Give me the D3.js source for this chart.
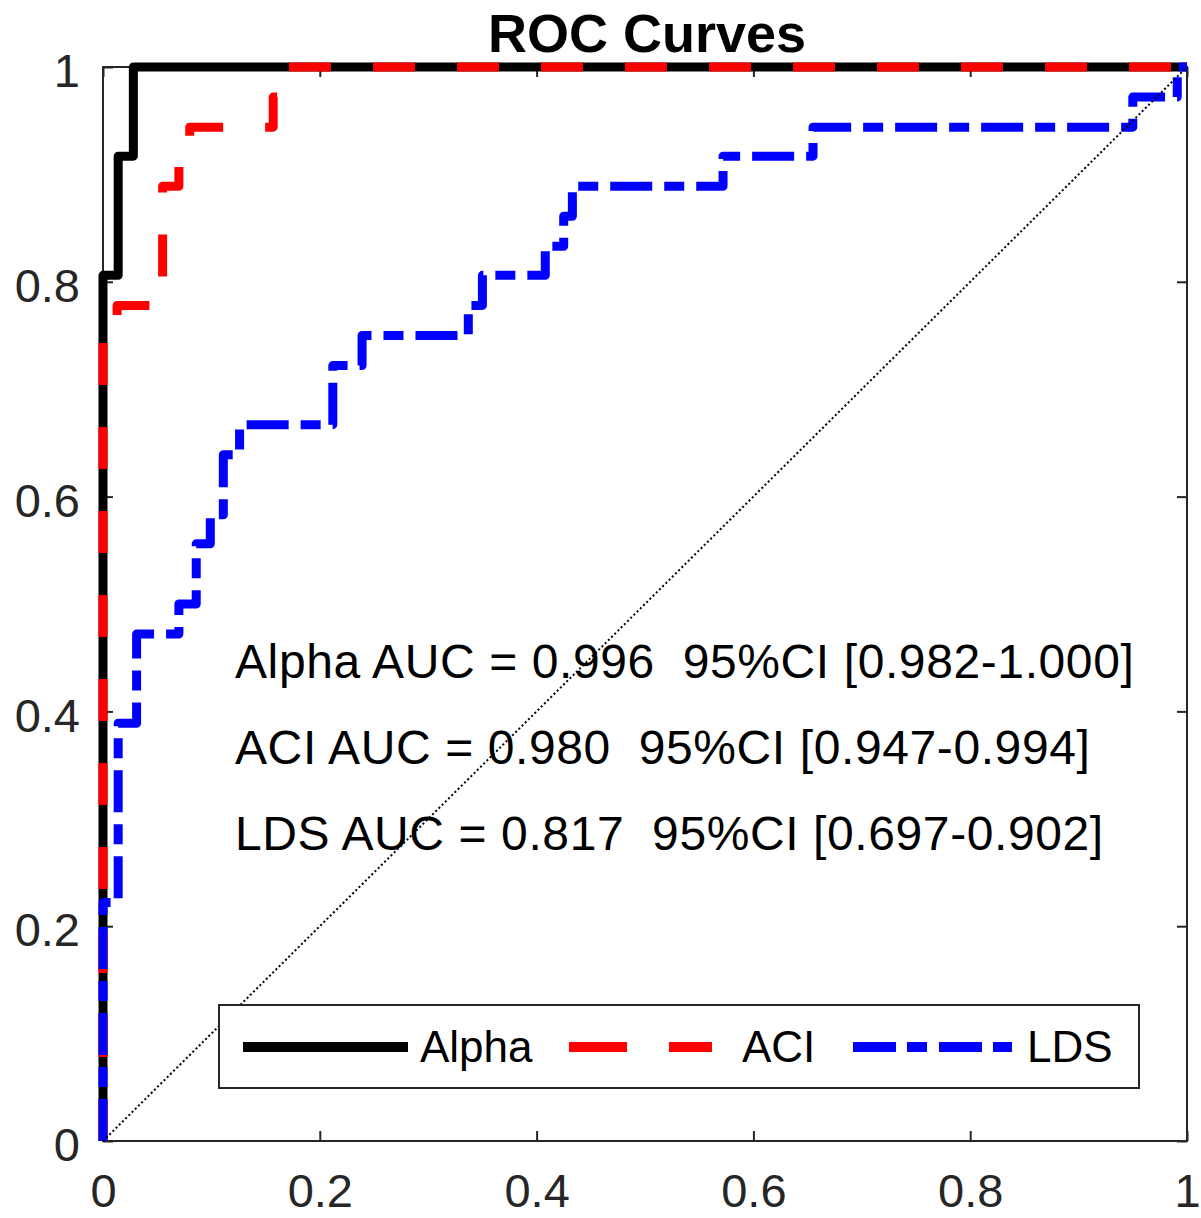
<!DOCTYPE html>
<html>
<head>
<meta charset="utf-8">
<script src="https://cdn.jsdelivr.net/npm/d3@7"></script>
<style>
  body { margin: 0; background: #fff; }
  svg { display: block; font-family: "Liberation Sans", Arial, Helvetica, sans-serif; }
</style>
</head>
<body>
<div id="chart"></div>
<script>
// ROC points (false positive rate, true positive rate)
const alphaFpr = [0, 0, 0.014, 0.014, 0.028, 0.028, 1];
const alphaTpr = [0, 0.806, 0.806, 0.917, 0.917, 1, 1];

const aciFpr = [0, 0, 0.013, 0.013, 0.055, 0.055, 0.070, 0.070, 0.080, 0.080, 0.157, 0.157, 0.168, 0.168, 1];
const aciTpr = [0, 0.750, 0.750, 0.778, 0.778, 0.889, 0.889, 0.917, 0.917, 0.944, 0.944, 0.972, 0.972, 1, 1];

const ldsFpr = [0, 0, 0.014, 0.014, 0.031, 0.031, 0.070, 0.070, 0.086, 0.086, 0.099, 0.099, 0.111, 0.111,
                0.126, 0.126, 0.212, 0.212, 0.239, 0.239, 0.337, 0.337, 0.350, 0.350, 0.408, 0.408,
                0.425, 0.425, 0.433, 0.433, 0.572, 0.572, 0.655, 0.655, 0.950, 0.950, 0.991, 0.991, 1];
const ldsTpr = [0, 0.222, 0.222, 0.389, 0.389, 0.472, 0.472, 0.500, 0.500, 0.556, 0.556, 0.583, 0.583, 0.639,
                0.639, 0.667, 0.667, 0.722, 0.722, 0.750, 0.750, 0.778, 0.778, 0.806, 0.806, 0.833,
                0.833, 0.861, 0.861, 0.889, 0.889, 0.917, 0.917, 0.944, 0.944, 0.972, 0.972, 1, 1];

const seriesNames = ["Alpha", "ACI", "LDS"];
const aucValues = ["0.996", "0.980", "0.817"];
const ciLow = ["0.982", "0.947", "0.697"];
const ciHigh = ["1.000", "0.994", "0.902"];
const tickValues = [0, 0.2, 0.4, 0.6, 0.8, 1];

const width = 1201, height = 1218;
const margin = {top: 67, right: 14, bottom: 77, left: 103};
const axisColor = "#262626";

const svg = d3.select("#chart").append("svg")
    .attr("width", width)
    .attr("height", height);

const x = d3.scaleLinear().domain([0, 1]).range([margin.left, width - margin.right]);
const y = d3.scaleLinear().domain([0, 1]).range([height - margin.bottom, margin.top]);

// box
svg.append("rect")
    .attr("x", x(0)).attr("y", y(1))
    .attr("width", x(1) - x(0)).attr("height", y(0) - y(1))
    .attr("fill", "none")
    .attr("stroke", axisColor)
    .attr("stroke-width", 2);

// axes with ticks pointing inward
const fmt = d => d === 0 || d === 1 ? String(d) : d.toFixed(1);

const xAxis = svg.append("g")
    .attr("transform", `translate(0,${y(0)})`)
    .call(d3.axisBottom(x).tickValues(tickValues).tickFormat(fmt).tickSizeInner(-10).tickSizeOuter(0).tickPadding(33));
const xAxisTop = svg.append("g")
    .attr("transform", `translate(0,${y(1)})`)
    .call(d3.axisTop(x).tickValues(tickValues).tickFormat("").tickSizeInner(-10).tickSizeOuter(0));
const yAxis = svg.append("g")
    .attr("transform", `translate(${x(0)},0)`)
    .call(d3.axisLeft(y).tickValues(tickValues).tickFormat(fmt).tickSizeInner(-10).tickSizeOuter(0).tickPadding(23));
const yAxisRight = svg.append("g")
    .attr("transform", `translate(${x(1)},0)`)
    .call(d3.axisRight(y).tickValues(tickValues).tickFormat("").tickSizeInner(-10).tickSizeOuter(0));

[xAxis, xAxisTop, yAxis, yAxisRight].forEach(g => {
  g.select(".domain").remove();
  g.selectAll(".tick line").attr("stroke", axisColor).attr("stroke-width", 2);
  g.selectAll(".tick text")
      .attr("fill", axisColor)
      .style("font-size", "47px")
      .style("font-family", "'Liberation Sans', Arial, sans-serif");
});
yAxis.selectAll(".tick text").attr("dy", "0.42em");

// curves
const line = d3.line().x(d => x(d[0])).y(d => y(d[1]));
const curves = [
  {fpr: alphaFpr, tpr: alphaTpr, color: "#000000", dash: null},
  {fpr: aciFpr, tpr: aciTpr, color: "#ff0000", dash: "42,42"},
  {fpr: ldsFpr, tpr: ldsTpr, color: "#0000ff", dash: "42,12,20,12"}
];

svg.append("g").selectAll("path")
    .data(curves)
    .enter()
    .append("path")
    .attr("d", c => line(c.fpr.map((f, i) => [f, c.tpr[i]])))
    .attr("fill", "none")
    .attr("stroke", c => c.color)
    .attr("stroke-width", 9)
    .attr("stroke-linejoin", "round")
    .attr("stroke-dasharray", c => c.dash);

// chance line
svg.append("line")
    .attr("x1", x(0)).attr("y1", y(0))
    .attr("x2", x(1)).attr("y2", y(1))
    .attr("stroke", "#000")
    .attr("stroke-width", 2)
    .attr("stroke-dasharray", "2,2.5");

// AUC annotations
const annot = svg.append("g");
seriesNames.forEach((name, i) => {
  annot.append("text")
      .attr("x", 235)
      .attr("y", 678 + i * 86)
      .style("font-size", "48px")
      .style("letter-spacing", "0.6px")
      .style("white-space", "pre")
      .attr("fill", "#000")
      .text(`${name} AUC = ${aucValues[i]}  95%CI [${ciLow[i]}-${ciHigh[i]}]`);
});

// title
svg.append("text")
    .attr("x", (x(0) + x(1)) / 2 + 2)
    .attr("y", 52)
    .attr("text-anchor", "middle")
    .style("font-size", "54px")
    .style("font-weight", "bold")
    .text("ROC Curves");

// legend
const legend = svg.append("g");
legend.append("rect")
    .attr("x", 219).attr("y", 1005)
    .attr("width", 920).attr("height", 83)
    .attr("fill", "#fff")
    .attr("stroke", axisColor)
    .attr("stroke-width", 2);

const legendItems = [
  {x0: 243, x1: 408, tx: 420},
  {x0: 569, x1: 712, tx: 742},
  {x0: 853, x1: 1012, tx: 1027}
];
const legendDash = [null, "58,42", "43,11,20,12"];
legendItems.forEach((it, i) => {
  legend.append("line")
      .attr("x1", it.x0).attr("x2", it.x1)
      .attr("y1", 1047).attr("y2", 1047)
      .attr("stroke", curves[i].color)
      .attr("stroke-width", 10)
      .attr("stroke-dasharray", legendDash[i]);
  legend.append("text")
      .attr("x", it.tx)
      .attr("y", 1062)
      .style("font-size", "44px")
      .attr("fill", "#000")
      .text(seriesNames[i]);
});
</script>
</body>
</html>
